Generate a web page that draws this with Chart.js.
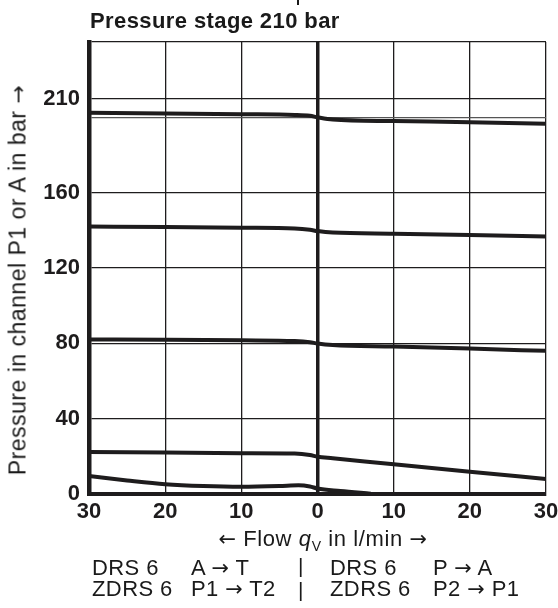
<!DOCTYPE html>
<html lang="en">
  <head>
    <meta charset="UTF-8" />
    <title>Pressure stage 210 bar</title>
    <script src="https://cdn.jsdelivr.net/npm/chart.js"></script>
    <style>
      body {
        margin: 0;
        background: #fff;
        font-family: "Liberation Sans", Arial, sans-serif;
        color: #1a1a1a;
      }
      .wrap {
        position: relative;
        width: 558px;
        height: 608px;
      }
      canvas {
        position: absolute;
        left: 0;
        top: 0;
      }
      .txt {
        position: absolute;
        white-space: nowrap;
        line-height: 1;
      }
      .ar {
        font-family: "DejaVu Sans", sans-serif;
        font-size: 0.95em;
      }
      .title {
        left: 90px;
        top: 10px;
        font-size: 22px;
        letter-spacing: 0.4px;
        font-weight: bold;
      }
      .ytitle {
        left: 18px;
        top: 280px;
        font-size: 23px;
        letter-spacing: 0.5px;
        transform: translate(-50%, -50%) rotate(-90deg);
      }
      .xtitle {
        left: 323px;
        top: 528px;
        font-size: 22px;
        letter-spacing: 0.6px;
        transform: translateX(-50%);
      }
      .legend {
        font-size: 22px;
        letter-spacing: 0.4px;
      }
      .sep {
        font-size: 21px;
      }
      .cut {
        position: absolute;
        left: 297px;
        top: 0;
        width: 2px;
        height: 5px;
        background: #1a1a1a;
      }
    </style>
  </head>
  <body>
    <div class="wrap">
      <canvas id="chart" width="558" height="608"></canvas>
      <div class="cut"></div>
      <div class="txt title">Pressure stage 210 bar</div>
      <div class="txt ytitle">Pressure in channel P1 or A in bar <span class="ar">&rarr;</span></div>
      <div class="txt xtitle"><span class="ar">&larr;</span> Flow <i>q</i><sub style="font-size:14px">V</sub> in l/min <span class="ar">&rarr;</span></div>
      <div class="txt legend" style="left:92px;top:557px">DRS 6</div>
      <div class="txt legend" style="left:191px;top:557px">A <span class="ar">&rarr;</span> T</div>
      <div class="txt sep" style="left:298px;top:555px">|</div>
      <div class="txt legend" style="left:330px;top:557px">DRS 6</div>
      <div class="txt legend" style="left:433px;top:557px">P <span class="ar">&rarr;</span> A</div>
      <div class="txt legend" style="left:92px;top:578px">ZDRS 6</div>
      <div class="txt legend" style="left:191px;top:578px">P1 <span class="ar">&rarr;</span> T2</div>
      <div class="txt sep" style="left:298px;top:579px">|</div>
      <div class="txt legend" style="left:330px;top:578px">ZDRS 6</div>
      <div class="txt legend" style="left:433px;top:578px">P2 <span class="ar">&rarr;</span> P1</div>
    </div>

    <script>
      // flow in l/min: negative = left half (A->T), positive = right half (P->A)
      const flowMain = [-30, -20, -10, -3, -1, 0, 2, 10, 20, 30];
      const p200 = [202.4, 202.1, 201.7, 201.3, 200.8, 200.0, 198.8, 198.0, 197.4, 196.6];
      const p140 = [142.0, 141.8, 141.4, 141.0, 140.3, 139.6, 138.8, 138.2, 137.5, 136.7];
      const p80 = [82.1, 81.9, 81.6, 81.2, 80.6, 79.9, 79.1, 78.3, 77.2, 76.0];
      const p20 = [22.3, 22.0, 21.7, 21.5, 20.7, 19.8, 19.0, 15.8, 11.8, 8.0];
      const flowLow = [-30, -25, -20, -15, -10, -5, -2.5, -1, 0, 3, 7];
      const pLow = [9.5, 7.2, 5.2, 4.2, 3.8, 4.2, 4.6, 4.0, 2.9, 1.6, 0.2];

      const yTicks = [0, 40, 80, 120, 160, 200, 210, 240];
      const yLabels = [0, 40, 80, 120, 160, 210];
      const xTicks = [-30, -20, -10, 0, 10, 20, 30];

      const ink = "#1e1c1d";

      function toPoints(xs, ys) {
        return xs.map((x, i) => ({ x: x, y: ys[i] }));
      }

      function curve(xs, ys) {
        return {
          data: toPoints(xs, ys),
          borderColor: ink,
          borderWidth: 4,
          pointRadius: 0,
          fill: false,
          cubicInterpolationMode: "monotone",
        };
      }

      new Chart(document.getElementById("chart"), {
        type: "line",
        data: {
          datasets: [
            curve(flowMain, p200),
            curve(flowMain, p140),
            curve(flowMain, p80),
            curve(flowMain, p20),
            curve(flowLow, pLow),
          ],
        },
        options: {
          responsive: false,
          animation: false,
          devicePixelRatio: 1,
          layout: { padding: { top: 42, right: 12, bottom: 84, left: 0 } },
          plugins: {
            legend: { display: false },
            tooltip: { enabled: false },
          },
          scales: {
            x: {
              type: "linear",
              min: -30,
              max: 30,
              afterBuildTicks: (scale) => {
                scale.ticks = xTicks.map((v) => ({ value: v }));
              },
              afterFit: (scale) => {
                scale.height = 30;
                // let the end labels hang over the plot edges
                scale.paddingLeft = 0;
                scale.paddingRight = 0;
              },
              grid: {
                color: ink,
                lineWidth: (ctx) => (ctx.tick && ctx.tick.value === 0 ? 3.5 : 1.3),
                drawTicks: false,
              },
              border: { color: ink, width: 4 },
              ticks: {
                color: ink,
                padding: 5,
                maxRotation: 0,
                font: { family: "Liberation Sans", size: 22, weight: "bold" },
                callback: (v) => Math.abs(v),
              },
            },
            y: {
              type: "linear",
              min: 0,
              max: 240,
              afterBuildTicks: (scale) => {
                scale.ticks = yTicks.map((v) => ({ value: v }));
              },
              afterFit: (scale) => {
                scale.width = 89;
                scale.paddingTop = 0;
                scale.paddingBottom = 0;
              },
              grid: {
                color: (ctx) => (ctx.tick && ctx.tick.value === 200 ? "#555" : ink),
                lineWidth: 1.3,
                drawTicks: false,
              },
              border: { color: ink, width: 4.5 },
              ticks: {
                color: ink,
                padding: 9,
                font: { family: "Liberation Sans", size: 22, weight: "bold" },
                callback: (v) => (yLabels.includes(v) ? v : ""),
              },
            },
          },
        },
      });
    </script>
  </body>
</html>
